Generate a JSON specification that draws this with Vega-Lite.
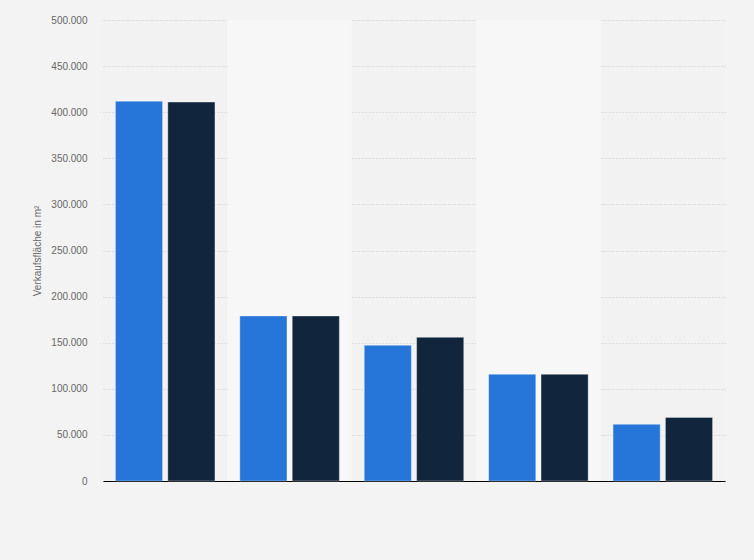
{
  "$schema": "https://vega.github.io/schema/vega-lite/v6.json",
  "width": 622,
  "height": 461,
  "autosize": {"type": "none"},
  "padding": {"left": 103, "top": 20, "right": 29, "bottom": 79},
  "background": "#f3f3f3",
  "config": {
    "view": {"stroke": null, "fill": "#f2f2f2"},
    "locale": {"number": {"decimal": ",", "thousands": ".", "grouping": [3], "currency": ["", " €"]}},
    "font": "Liberation Sans"
  },
  "datasets": {
    "cats": [
      {"kategorie": "1", "nr": 1},
      {"kategorie": "2", "nr": 2},
      {"kategorie": "3", "nr": 3},
      {"kategorie": "4", "nr": 4},
      {"kategorie": "5", "nr": 5}
    ],
    "werte": [
      {"kategorie": "1", "serie": "A", "flaeche": 412000},
      {"kategorie": "1", "serie": "B", "flaeche": 411000},
      {"kategorie": "2", "serie": "A", "flaeche": 179000},
      {"kategorie": "2", "serie": "B", "flaeche": 179000},
      {"kategorie": "3", "serie": "A", "flaeche": 147200},
      {"kategorie": "3", "serie": "B", "flaeche": 155800},
      {"kategorie": "4", "serie": "A", "flaeche": 115700},
      {"kategorie": "4", "serie": "B", "flaeche": 115700},
      {"kategorie": "5", "serie": "A", "flaeche": 61500},
      {"kategorie": "5", "serie": "B", "flaeche": 69000}
    ]
  },
  "layer": [
    {
      "data": {"name": "cats"},
      "transform": [{"filter": "datum.nr % 2 == 0"}],
      "mark": {"type": "rect", "color": "#f7f7f7"},
      "encoding": {
        "x": {"field": "kategorie", "type": "nominal",
              "scale": {"domain": ["1","2","3","4","5"], "paddingInner": 0, "paddingOuter": 0},
              "axis": null}
      }
    },
    {
      "data": {"name": "werte"},
      "mark": {"type": "bar", "strokeWidth": 1, "strokeOpacity": 0.35, "stroke": "#ffffff"},
      "encoding": {
        "x": {"field": "kategorie", "type": "nominal",
              "scale": {"domain": ["1","2","3","4","5"], "paddingInner": 0.2, "paddingOuter": 0.1},
              "axis": {"title": null, "labels": false, "ticks": false, "domain": true, "domainColor": "#000000", "domainWidth": 1}},
        "xOffset": {"field": "serie", "type": "nominal", "scale": {"paddingInner": 0.1}},
        "y": {"field": "flaeche", "type": "quantitative",
              "scale": {"domain": [0, 500000], "nice": false},
              "axis": {"title": "Verkaufsfläche in m²", "titleFont": "Liberation Sans", "titleFontSize": 10, "titleFontWeight": "normal", "titleColor": "#666666", "titlePadding": 8,
                       "values": [0,50000,100000,150000,200000,250000,300000,350000,400000,450000,500000],
                       "labelOverlap": false,
                       "format": ",d", "labelFontSize": 10, "labelColor": "#666666", "labelPadding": 16,
                       "ticks": false, "domain": false, "grid": true, "gridColor": "#cccccc", "gridDash": [1, 2], "gridWidth": 1}},
        "color": {"field": "serie", "type": "nominal",
                  "scale": {"domain": ["A", "B"], "range": ["#2675d9", "#11263d"]},
                  "legend": null}
      }
    }
  ],
  "resolve": {"scale": {"x": "independent"}}
}
